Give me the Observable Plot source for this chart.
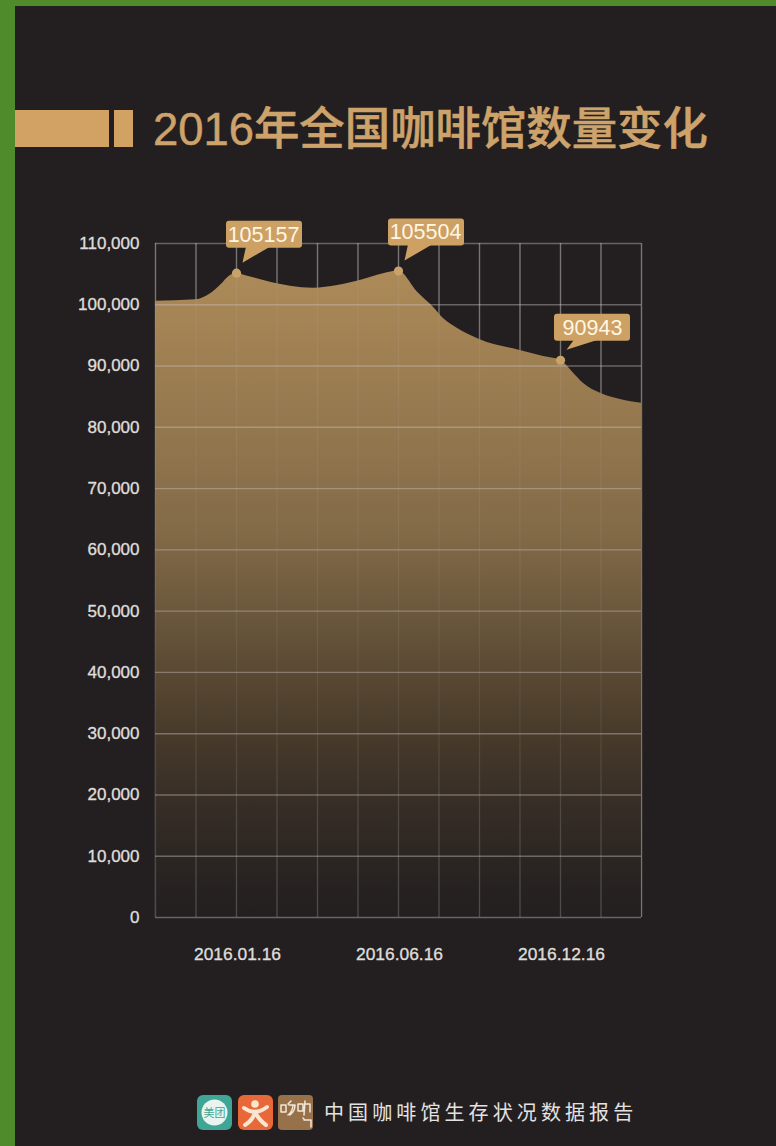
<!DOCTYPE html>
<html lang="zh">
<head>
<meta charset="utf-8">
<script src="https://cdn.jsdelivr.net/npm/d3@7"></script>
<script src="https://cdn.jsdelivr.net/npm/@observablehq/plot@0.6"></script>
<style>
  html, body { margin: 0; padding: 0; background: #231f20; }
  #page {
    width: 761px; height: 1140px; overflow: hidden;
    border-left: 15px solid #4f8a2b; border-top: 6px solid #4f8a2b;
    background: #231f20; font-family: "Liberation Sans", sans-serif;
  }
  #head { position: relative; height: 194px; }
  .bar { position: absolute; top: 104px; height: 37px; background: #d1a263; }
  #head h1 {
    position: absolute; left: 138px; top: 94px; margin: 0; white-space: nowrap;
    font: 500 45.4px/60px "Liberation Sans", "Noto Sans CJK SC", sans-serif;
    color: #cda36b; -webkit-text-stroke: 0.5px #cda36b;
  }
  #chart svg { display: block; }
  #chart svg g[aria-label$="tick label"] text { stroke: #dedcda; stroke-width: 0.35px; }
  #foot { position: relative; height: 146px; }
  #foot .brands { position: absolute; left: 182px; top: 95px; }
  #foot p {
    position: absolute; left: 309px; top: 97px; margin: 0; white-space: nowrap;
    font: 400 20px/30px "Noto Sans CJK SC", sans-serif;
    letter-spacing: 4.1px; color: #e4e2e0;
  }
</style>
</head>
<body>
<div id="page">
  <div id="head">
    <div class="bar" style="left:0;width:94px"></div>
    <div class="bar" style="left:99px;width:19px"></div>
    <h1>2016年全国咖啡馆数量变化</h1>
  </div>
  <div id="chart"></div>
  <div id="foot">
    <svg class="brands" width="120" height="36" viewBox="0 0 120 36">
      <rect x="0" y="0" width="35" height="35" rx="6" fill="#3fa596"/>
      <circle cx="17.5" cy="17.5" r="13" fill="#e9f4ef"/>
      <text x="17.5" y="22" text-anchor="middle" font-family="Noto Sans CJK SC" font-size="11" fill="#3fa596">美团</text>
      <rect x="41" y="0" width="35" height="35" rx="6" fill="#e9683a"/>
      <circle cx="58" cy="9" r="3.8" fill="#f8e6d0"/>
      <path d="M47 13 Q58 21 70 12 M58 17 Q56 25 48 30 M58 17 Q62 25 69 30" fill="none" stroke="#f8e6d0" stroke-width="4" stroke-linecap="round"/>
      <rect x="81" y="0" width="35" height="35" rx="4" fill="#96714a"/>
      <path d="M84 10 h5 v7 h-5 Z M91 9 l3 -3 M92 10 h6 q0 6 -5 10 M96 11 q-1 6 -5 9 M101 9 h5 v7 h-5 Z M108 6 l-1 14 M108 9 h5 v8 M106 23 l1 1 M107 25 h7 v7" fill="none" stroke="#f3e8d8" stroke-width="1.5" stroke-linecap="round" stroke-linejoin="round"/>
    </svg>
    <p>中国咖啡馆生存状况数据报告</p>
  </div>
</div>
<script>
// Grid slots along the x axis, with the three dated slots labelled.
const slots = [0, 1, 2, 3, 4, 5, 6, 7, 8, 9, 10, 11, 12];
// The outline is read at irregular slot positions so the kinks at the peaks survive.
const curveSlots = [0, 1, 1.36, 1.6, 1.85, 2, 2.1, 2.67, 3.33, 3.9, 4.5, 5.14, 5.63, 6, 6.47, 6.86, 7.11, 7.46, 8, 9, 9.58, 10, 10.3, 10.57, 11, 11.48, 12];
const shopCounts = [100580, 100810, 101790, 103140, 104770, 105157, 105000, 103960, 103030, 102700, 103140, 104120, 105050, 105504, 102050, 99600, 97760, 96120, 94330, 92530, 91560, 90943, 88990, 87150, 85520, 84540, 83930];
const dateSlots = [2, 6, 10];
const dateLabels = ["2016.01.16", "2016.06.16", "2016.12.16"];
const peakSlots = [2, 6, 10];
const peakValues = [105157, 105504, 90943];
const countTicks = [0, 10000, 20000, 30000, 40000, 50000, 60000, 70000, 80000, 90000, 100000, 110000];

const rows = curveSlots.map((s, i) => ({slot: s, count: shopCounts[i]}));
const peaks = peakSlots.map((s, i) => ({slot: s, count: peakValues[i]}));

// Vertical fade of the area, defined once and referenced by url().
function fadeDefs() {
  const defs = d3.create("svg:defs");
  const g = defs.append("linearGradient").attr("id", "areaFade")
    .attr("x1", 0).attr("y1", 0).attr("x2", 0).attr("y2", 1);
  g.append("stop").attr("offset", "0%").attr("stop-color", "#ad8a58");
  g.append("stop").attr("offset", "40%").attr("stop-color", "#836b48");
  g.append("stop").attr("offset", "70%").attr("stop-color", "#4b3d2c");
  g.append("stop").attr("offset", "100%").attr("stop-color", "#231f20").attr("stop-opacity", 0.6);
  return defs.node();
}

// Speech-bubble callouts anchored on each peak through the scales.
function bubbles(index, {x, y}) {
  const g = d3.create("svg:g").attr("fill", "#cda063");
  peaks.forEach((p, i) => {
    const px = x(p.slot), py = y(p.count);
    const left = i === 2 ? -6 : -10;
    const top = i === 2 ? -46 : -52;
    g.append("rect")
      .attr("x", px + left).attr("y", py + top)
      .attr("width", 76).attr("height", 27).attr("rx", 3);
    g.append("path").attr("d",
      `M${px + left + 20},${py + top + 26} L${px + left + 44},${py + top + 26} L${px + 6.5},${py - 10} Z`);
  });
  return g.node();
}

const chart = Plot.plot({
  width: 761,
  height: 800,
  marginLeft: 140,
  marginRight: 135,
  marginTop: 43,
  marginBottom: 83,
  style: {background: "transparent", fontFamily: "Liberation Sans, sans-serif"},
  x: {domain: [0, 12]},
  y: {domain: [0, 110000]},
  marks: [
    fadeDefs,
    Plot.ruleX(slots, {stroke: "#706e6c", strokeWidth: 1.4}),
    Plot.areaY(rows, {x: "slot", y: "count", curve: "monotone-x", fill: "url(#areaFade)"}),
    Plot.ruleY(countTicks, {stroke: "#c8c4c0", strokeOpacity: 0.42, strokeWidth: 1.4}),
    Plot.ruleX(slots, {stroke: "#c8c4c0", strokeOpacity: 0.1, strokeWidth: 1.2}),
    Plot.dot(peaks, {x: "slot", y: "count", r: 4.6, fill: "#c9a26a"}),
    bubbles,
    Plot.text(peaks.slice(0, 2), {
      x: "slot", y: "count", text: d => String(d.count),
      dx: 27, dy: -38.5, fontSize: 21.5, fill: "#fff6e4"
    }),
    Plot.text(peaks.slice(2), {
      x: "slot", y: "count", text: d => String(d.count),
      dx: 32, dy: -32.5, fontSize: 21.5, fill: "#fff6e4"
    }),
    Plot.axisY(countTicks, {
      anchor: "left", tickSize: 0, tickPadding: 16, label: null,
      tickFormat: d3.format(","), fontSize: 17, fill: "#dedcda"
    }),
    Plot.axisX(dateSlots, {
      anchor: "bottom", tickSize: 0, tickPadding: 30, label: null, dx: 1,
      tickFormat: d => dateLabels[dateSlots.indexOf(d)], fontSize: 17.4, fill: "#dedcda"
    })
  ]
});
document.getElementById("chart").append(chart);
</script>
</body>
</html>
